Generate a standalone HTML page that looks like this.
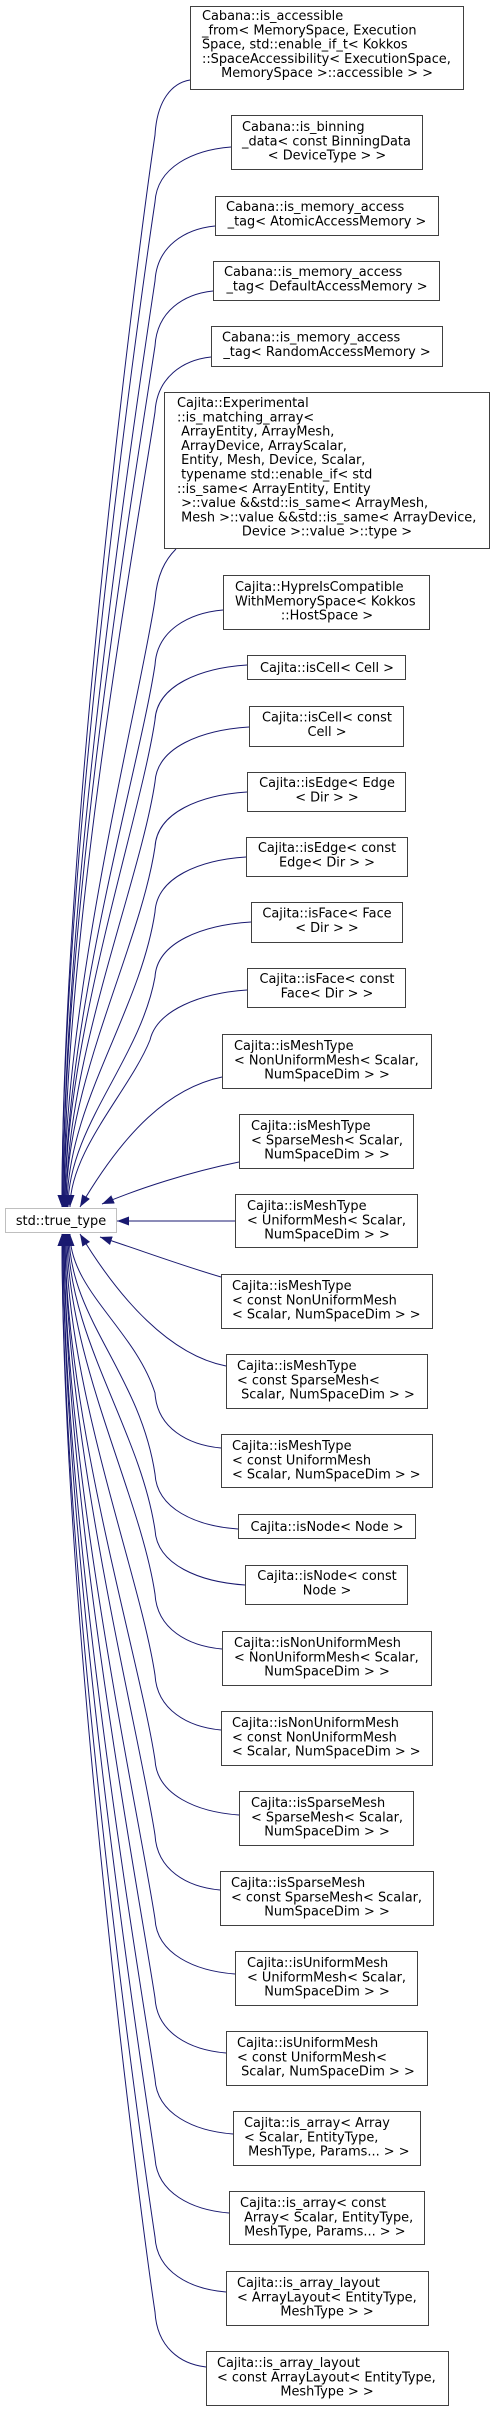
<!DOCTYPE html>
<html><head><meta charset="utf-8"><style>
html,body{margin:0;padding:0;background:#fff;}
svg{display:block;}
text{font-family:"DejaVu Sans","Liberation Sans",sans-serif;font-size:12.9px;fill:#000;white-space:pre;}
.b{fill:#fff;stroke:#404040;stroke-width:1;}
.e{fill:none;stroke:#191970;stroke-width:1;}
</style></head><body>
<svg width="495" height="2412" viewBox="0 0 495 2412" xmlns="http://www.w3.org/2000/svg">
<defs><marker id="a" markerUnits="userSpaceOnUse" markerWidth="12" markerHeight="9" viewBox="0 0 12 9" refX="12" refY="4.5" orient="auto"><path d="M0,0 L12,4.5 L0,9 z" fill="#191970"/></marker></defs>
<g marker-end="url(#a)">
<path class="e" marker-end="url(#a)" d="M190,80 C172,83 157,100 155,135 C140,235 62,832 62,1207"/>
<path class="e" marker-end="url(#a)" d="M231,147 C193,150 157,167 155,202 C140,302 62,855 62,1207"/>
<path class="e" marker-end="url(#a)" d="M215,226 C185,229 157,246 155,281 C140,381 63,883 63,1207"/>
<path class="e" marker-end="url(#a)" d="M213,291 C184,294 157,311 155,346 C140,446 63,906 63,1207"/>
<path class="e" marker-end="url(#a)" d="M211,357 C183,360 157,377 155,412 C140,512 64,929 64,1207"/>
<path class="e" marker-end="url(#a)" d="M176,549 C165,560 157,575 155,600 C140,700 64,995 64,1207"/>
<path class="e" marker-end="url(#a)" d="M223,610 C189,613 157,630 155,665 C140,765 65,1017 65,1207"/>
<path class="e" marker-end="url(#a)" d="M247,665 C201,668 157,685 155,720 C140,820 65,1037 65,1207"/>
<path class="e" marker-end="url(#a)" d="M249,727 C202,730 157,747 155,782 C140,882 66,1058 66,1207"/>
<path class="e" marker-end="url(#a)" d="M247,792 C201,795 157,812 155,847 C140,947 66,1081 66,1207"/>
<path class="e" marker-end="url(#a)" d="M246,857 C200,860 157,877 155,912 C140,1012 67,1104 67,1207"/>
<path class="e" marker-end="url(#a)" d="M251,922 C203,925 157,942 155,977 C140,1060 68,1127 68,1207"/>
<path class="e" marker-end="url(#a)" d="M247,990 C201,993 157,1010 150,1040 C130,1090 70,1150 70,1207"/>
<path class="e" marker-end="url(#a)" d="M222,1077 C170,1088 125,1130 80,1207"/>
<path class="e" marker-end="url(#a)" d="M239,1162 C190,1172 140,1188 102,1204"/>
<path class="e" marker-end="url(#a)" d="M235,1221 L117,1221"/>
<path class="e" marker-end="url(#a)" d="M221,1277 C180,1265 140,1250 100,1237"/>
<path class="e" marker-end="url(#a)" d="M226,1366 C170,1355 120,1300 80,1234"/>
<path class="e" marker-end="url(#a)" d="M221,1448 C188,1445 157,1428 155,1393 C135,1330 70,1290 70,1234"/>
<path class="e" marker-end="url(#a)" d="M238,1529 C196,1526 157,1509 155,1474 C140,1374 69,1318 69,1234"/>
<path class="e" marker-end="url(#a)" d="M245,1585 C200,1582 157,1565 155,1530 C140,1430 68,1338 68,1234"/>
<path class="e" marker-end="url(#a)" d="M222,1649 C188,1646 157,1629 155,1594 C140,1494 67,1360 67,1234"/>
<path class="e" marker-end="url(#a)" d="M221,1730 C188,1727 157,1710 155,1675 C140,1575 66,1388 66,1234"/>
<path class="e" marker-end="url(#a)" d="M239,1815 C197,1812 157,1795 155,1760 C140,1660 65,1418 65,1234"/>
<path class="e" marker-end="url(#a)" d="M220,1890 C187,1887 157,1870 155,1835 C140,1735 65,1444 65,1234"/>
<path class="e" marker-end="url(#a)" d="M235,1974 C195,1971 157,1954 155,1919 C140,1819 64,1474 64,1234"/>
<path class="e" marker-end="url(#a)" d="M226,2053 C190,2050 157,2033 155,1998 C140,1898 64,1501 64,1234"/>
<path class="e" marker-end="url(#a)" d="M233,2134 C194,2131 157,2114 155,2079 C140,1979 63,1530 63,1234"/>
<path class="e" marker-end="url(#a)" d="M229,2213 C192,2210 157,2193 155,2158 C140,2058 63,1557 63,1234"/>
<path class="e" marker-end="url(#a)" d="M226,2292 C190,2289 157,2272 155,2237 C140,2137 62,1585 62,1234"/>
<path class="e" marker-end="url(#a)" d="M206,2367 C180,2364 157,2347 155,2312 C140,2212 62,1611 62,1234"/>
</g>

<!-- std::true_type -->
<rect x="5.5" y="1208.5" width="111" height="24" fill="#fff" stroke="#bfbfbf"/>
<text x="61" y="1225" text-anchor="middle">std::true_type</text>

<!-- 1 -->
<rect class="b" x="190.5" y="6.5" width="273" height="83"/>
<text x="202" y="20">Cabana::is_accessible</text>
<text x="202" y="34.3">_from&lt; MemorySpace, Execution</text>
<text x="202" y="48.6">Space, std::enable_if_t&lt; Kokkos</text>
<text x="202" y="62.9">::SpaceAccessibility&lt; ExecutionSpace,</text>
<text x="327" y="77.2" text-anchor="middle">MemorySpace &gt;::accessible &gt; &gt;</text>
<!-- 2 -->
<rect class="b" x="231.5" y="115.5" width="191" height="54"/>
<text x="242" y="131">Cabana::is_binning</text>
<text x="242" y="145.3">_data&lt; const BinningData</text>
<text x="327" y="159.6" text-anchor="middle">&lt; DeviceType &gt; &gt;</text>
<!-- 3 -->
<rect class="b" x="215.5" y="196.5" width="223" height="39"/>
<text x="226" y="211">Cabana::is_memory_access</text>
<text x="327" y="225.3" text-anchor="middle">_tag&lt; AtomicAccessMemory &gt;</text>
<!-- 4 -->
<rect class="b" x="213.5" y="261.5" width="226" height="39"/>
<text x="224" y="276">Cabana::is_memory_access</text>
<text x="327" y="290.3" text-anchor="middle">_tag&lt; DefaultAccessMemory &gt;</text>
<!-- 5 -->
<rect class="b" x="211.5" y="326.5" width="231" height="40"/>
<text x="222" y="341.5">Cabana::is_memory_access</text>
<text x="327" y="355.8" text-anchor="middle">_tag&lt; RandomAccessMemory &gt;</text>
<!-- 6 -->
<rect class="b" x="164.5" y="392.5" width="325" height="156"/>
<text x="177" y="407">Cajita::Experimental</text>
<text x="177" y="421.3">::is_matching_array&lt;</text>
<text x="177" y="435.6"> ArrayEntity, ArrayMesh,</text>
<text x="177" y="449.9"> ArrayDevice, ArrayScalar,</text>
<text x="177" y="464.2"> Entity, Mesh, Device, Scalar,</text>
<text x="177" y="478.5"> typename std::enable_if&lt; std</text>
<text x="177" y="492.8">::is_same&lt; ArrayEntity, Entity</text>
<text x="177" y="507.1"> &gt;::value &amp;&amp;std::is_same&lt; ArrayMesh,</text>
<text x="177" y="521.4"> Mesh &gt;::value &amp;&amp;std::is_same&lt; ArrayDevice,</text>
<text x="327" y="535.7" text-anchor="middle">Device &gt;::value &gt;::type &gt;</text>
<!-- 7 -->
<rect class="b" x="223.5" y="575.5" width="206" height="54"/>
<text x="235" y="591">Cajita::HypreIsCompatible</text>
<text x="235" y="605.3">WithMemorySpace&lt; Kokkos</text>
<text x="327" y="619.6" text-anchor="middle">::HostSpace &gt;</text>
<!-- 8 -->
<rect class="b" x="247.5" y="655.5" width="158" height="24"/>
<text x="327" y="672" text-anchor="middle">Cajita::isCell&lt; Cell &gt;</text>
<!-- 9 -->
<rect class="b" x="249.5" y="706.5" width="154" height="40"/>
<text x="327" y="721.5" text-anchor="middle">Cajita::isCell&lt; const</text>
<text x="327" y="735.8" text-anchor="middle">Cell &gt;</text>
<!-- 10 -->
<rect class="b" x="247.5" y="772.5" width="158" height="39"/>
<text x="327" y="787" text-anchor="middle">Cajita::isEdge&lt; Edge</text>
<text x="327" y="801.3" text-anchor="middle">&lt; Dir &gt; &gt;</text>
<!-- 11 -->
<rect class="b" x="246.5" y="837.5" width="161" height="39"/>
<text x="327" y="852" text-anchor="middle">Cajita::isEdge&lt; const</text>
<text x="327" y="866.3" text-anchor="middle">Edge&lt; Dir &gt; &gt;</text>
<!-- 12 -->
<rect class="b" x="251.5" y="902.5" width="151" height="40"/>
<text x="327" y="917.5" text-anchor="middle">Cajita::isFace&lt; Face</text>
<text x="327" y="931.8" text-anchor="middle">&lt; Dir &gt; &gt;</text>
<!-- 13 -->
<rect class="b" x="247.5" y="968.5" width="158" height="39"/>
<text x="327" y="983" text-anchor="middle">Cajita::isFace&lt; const</text>
<text x="327" y="997.3" text-anchor="middle">Face&lt; Dir &gt; &gt;</text>
<!-- 14 -->
<rect class="b" x="222.5" y="1034.5" width="209" height="54"/>
<text x="234" y="1050">Cajita::isMeshType</text>
<text x="234" y="1064.3">&lt; NonUniformMesh&lt; Scalar,</text>
<text x="327" y="1078.6" text-anchor="middle">NumSpaceDim &gt; &gt;</text>
<!-- 15 -->
<rect class="b" x="239.5" y="1114.5" width="174" height="54"/>
<text x="251" y="1130">Cajita::isMeshType</text>
<text x="251" y="1144.3">&lt; SparseMesh&lt; Scalar,</text>
<text x="327" y="1158.6" text-anchor="middle">NumSpaceDim &gt; &gt;</text>
<!-- 16 -->
<rect class="b" x="235.5" y="1194.5" width="182" height="53"/>
<text x="247" y="1210">Cajita::isMeshType</text>
<text x="247" y="1224.3">&lt; UniformMesh&lt; Scalar,</text>
<text x="327" y="1238.6" text-anchor="middle">NumSpaceDim &gt; &gt;</text>
<!-- 17 -->
<rect class="b" x="221.5" y="1274.5" width="211" height="54"/>
<text x="232" y="1290">Cajita::isMeshType</text>
<text x="232" y="1304.3">&lt; const NonUniformMesh</text>
<text x="232" y="1318.6">&lt; Scalar, NumSpaceDim &gt; &gt;</text>
<!-- 18 -->
<rect class="b" x="226.5" y="1354.5" width="201" height="54"/>
<text x="237" y="1370">Cajita::isMeshType</text>
<text x="237" y="1384.3">&lt; const SparseMesh&lt;</text>
<text x="237" y="1398.6"> Scalar, NumSpaceDim &gt; &gt;</text>
<!-- 19 -->
<rect class="b" x="221.5" y="1434.5" width="211" height="53"/>
<text x="232" y="1450">Cajita::isMeshType</text>
<text x="232" y="1464.3">&lt; const UniformMesh</text>
<text x="232" y="1478.6">&lt; Scalar, NumSpaceDim &gt; &gt;</text>
<!-- 20 -->
<rect class="b" x="238.5" y="1514.5" width="177" height="24"/>
<text x="327" y="1531" text-anchor="middle">Cajita::isNode&lt; Node &gt;</text>
<!-- 21 -->
<rect class="b" x="245.5" y="1565.5" width="162" height="39"/>
<text x="327" y="1580" text-anchor="middle">Cajita::isNode&lt; const</text>
<text x="327" y="1594.3" text-anchor="middle">Node &gt;</text>
<!-- 22 -->
<rect class="b" x="222.5" y="1631.5" width="209" height="54"/>
<text x="234" y="1647">Cajita::isNonUniformMesh</text>
<text x="234" y="1661.3">&lt; NonUniformMesh&lt; Scalar,</text>
<text x="327" y="1675.6" text-anchor="middle">NumSpaceDim &gt; &gt;</text>
<!-- 23 -->
<rect class="b" x="221.5" y="1711.5" width="211" height="54"/>
<text x="232" y="1727">Cajita::isNonUniformMesh</text>
<text x="232" y="1741.3">&lt; const NonUniformMesh</text>
<text x="232" y="1755.6">&lt; Scalar, NumSpaceDim &gt; &gt;</text>
<!-- 24 -->
<rect class="b" x="239.5" y="1791.5" width="174" height="54"/>
<text x="251" y="1807">Cajita::isSparseMesh</text>
<text x="251" y="1821.3">&lt; SparseMesh&lt; Scalar,</text>
<text x="327" y="1835.6" text-anchor="middle">NumSpaceDim &gt; &gt;</text>
<!-- 25 -->
<rect class="b" x="220.5" y="1871.5" width="213" height="54"/>
<text x="231" y="1887">Cajita::isSparseMesh</text>
<text x="231" y="1901.3">&lt; const SparseMesh&lt; Scalar,</text>
<text x="327" y="1915.6" text-anchor="middle">NumSpaceDim &gt; &gt;</text>
<!-- 26 -->
<rect class="b" x="235.5" y="1951.5" width="182" height="54"/>
<text x="247" y="1967">Cajita::isUniformMesh</text>
<text x="247" y="1981.3">&lt; UniformMesh&lt; Scalar,</text>
<text x="327" y="1995.6" text-anchor="middle">NumSpaceDim &gt; &gt;</text>
<!-- 27 -->
<rect class="b" x="226.5" y="2031.5" width="201" height="54"/>
<text x="237" y="2047">Cajita::isUniformMesh</text>
<text x="237" y="2061.3">&lt; const UniformMesh&lt;</text>
<text x="237" y="2075.6"> Scalar, NumSpaceDim &gt; &gt;</text>
<!-- 28 -->
<rect class="b" x="233.5" y="2111.5" width="187" height="54"/>
<text x="244" y="2127">Cajita::is_array&lt; Array</text>
<text x="244" y="2141.3">&lt; Scalar, EntityType,</text>
<text x="244" y="2155.6"> MeshType, Params... &gt; &gt;</text>
<!-- 29 -->
<rect class="b" x="229.5" y="2191.5" width="195" height="53"/>
<text x="240" y="2207">Cajita::is_array&lt; const</text>
<text x="240" y="2221.3"> Array&lt; Scalar, EntityType,</text>
<text x="240" y="2235.6"> MeshType, Params... &gt; &gt;</text>
<!-- 30 -->
<rect class="b" x="226.5" y="2271.5" width="202" height="54"/>
<text x="237" y="2287">Cajita::is_array_layout</text>
<text x="237" y="2301.3">&lt; ArrayLayout&lt; EntityType,</text>
<text x="327" y="2315.6" text-anchor="middle">MeshType &gt; &gt;</text>
<!-- 31 -->
<rect class="b" x="206.5" y="2351.5" width="242" height="54"/>
<text x="217" y="2367">Cajita::is_array_layout</text>
<text x="217" y="2381.3">&lt; const ArrayLayout&lt; EntityType,</text>
<text x="327" y="2395.6" text-anchor="middle">MeshType &gt; &gt;</text>
</svg>
</body></html>
